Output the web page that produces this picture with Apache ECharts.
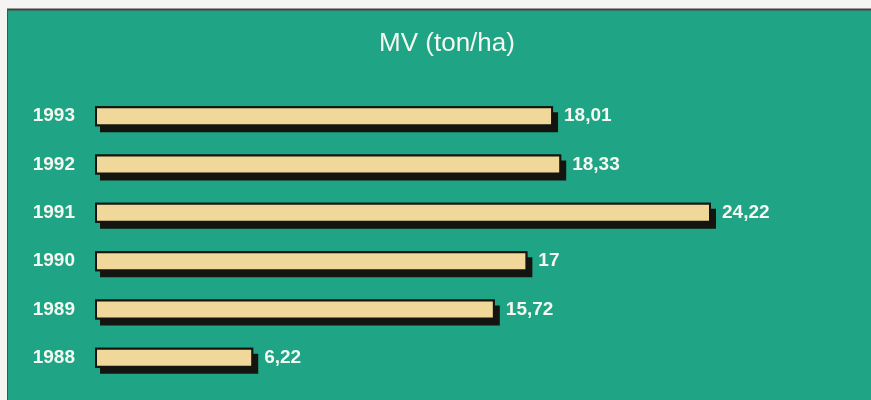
<!DOCTYPE html>
<html>
<head>
<meta charset="utf-8">
<script src="https://cdn.jsdelivr.net/npm/echarts@6/dist/echarts.min.js"></script>
<style>
html,body{margin:0;padding:0;background:#f4f4f2;}
#chart{width:871px;height:400px;}
</style>
</head>
<body>
<div id="chart"></div>
<script>
var years = ['1988', '1989', '1990', '1991', '1992', '1993'];
var values = [6.22, 15.72, 17, 24.22, 18.33, 18.01];
var titleText = 'MV (ton/ha)';

var chart = echarts.init(document.getElementById('chart'));
chart.setOption({
  backgroundColor: '#f4f4f2',
  graphic: [
    {type: 'rect', shape: {x: 7, y: 9, width: 870, height: 400}, style: {fill: '#1fa485'}, z: -10},
    {type: 'line', shape: {x1: 7, y1: 9.5, x2: 871, y2: 9.5}, style: {stroke: '#4a4040', lineWidth: 2}, z: -9},
    {type: 'line', shape: {x1: 7.5, y1: 9, x2: 7.5, y2: 400}, style: {stroke: '#3a5a50', lineWidth: 1}, z: -9}
  ],
  title: {
    text: titleText,
    left: 442, textAlign: 'center', top: 26,
    textStyle: {color: '#f4f8f0', fontSize: 26, fontWeight: 'normal', fontFamily: 'Liberation Sans, Arial, sans-serif'}
  },
  grid: {left: 95, right: 13, top: 92, bottom: 18},
  xAxis: {type: 'value', min: 0, max: 30, show: false},
  yAxis: {
    type: 'category', data: years,
    axisLine: {show: false}, axisTick: {show: false},
    axisLabel: {color: '#f4f8f0', fontSize: 19, fontWeight: 'bold', margin: 20, fontFamily: 'Liberation Sans, Arial, sans-serif'}
  },
  series: [{
    type: 'bar', data: values, barWidth: 20, z: 1,
    itemStyle: {
      color: '#151510',
      shadowColor: '#151510', shadowOffsetX: 5, shadowOffsetY: 6, shadowBlur: 0
    },
    silent: true
  }, {
    type: 'bar', data: values, barWidth: 20, barGap: '-100%', z: 2,
    itemStyle: {
      color: '#f0d89a', borderColor: '#151510', borderWidth: 2
    },
    label: {
      show: true, position: 'right', distance: 11,
      color: '#f4f8f0', fontSize: 19, fontWeight: 'bold', fontFamily: 'Liberation Sans, Arial, sans-serif',
      formatter: function (p) { return String(p.value).replace('.', ','); }
    }
  }],
  animation: false
});
</script>
</body>
</html>
